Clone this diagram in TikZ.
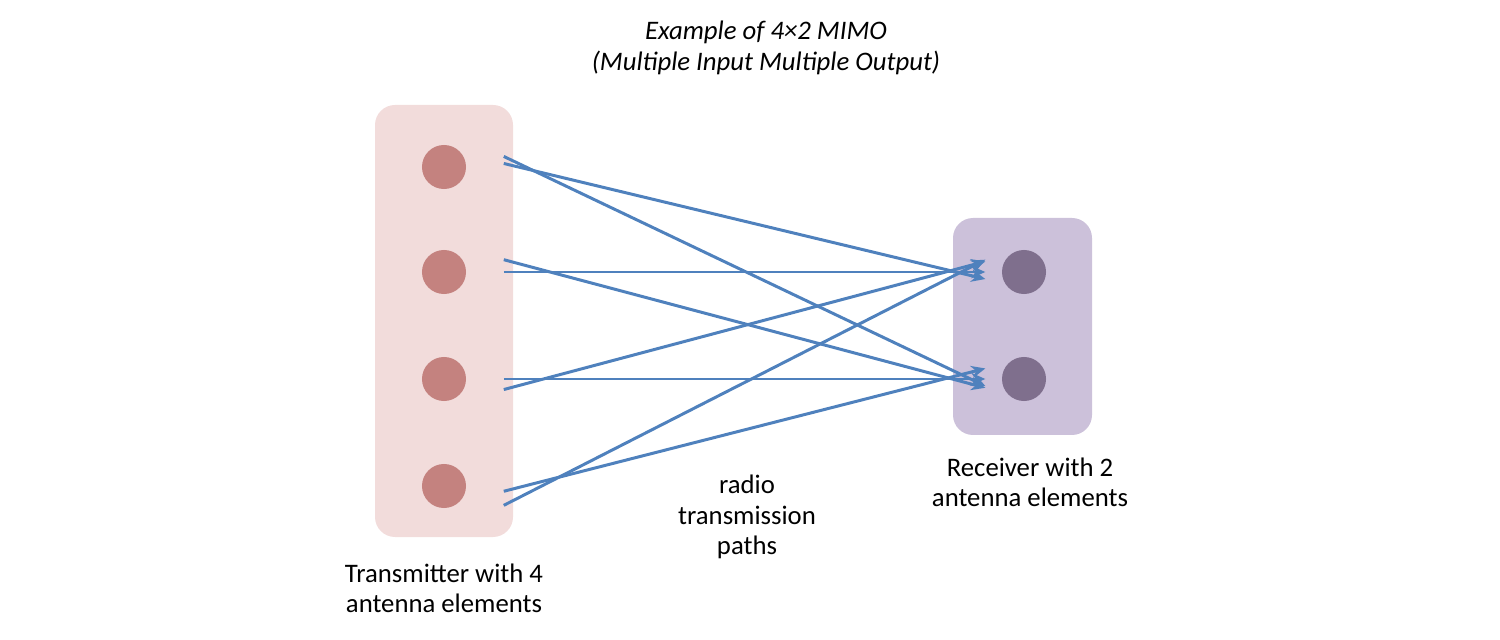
\documentclass[tikz,border=0pt]{standalone}
\usepackage{fontspec}
\setmainfont{Carlito}
\usetikzlibrary{arrows.meta}
\definecolor{txbox}{HTML}{F2DCDB}
\definecolor{txdot}{HTML}{C4827F}
\definecolor{rxbox}{HTML}{CCC1DA}
\definecolor{rxdot}{HTML}{7F6F8D}
\definecolor{path}{HTML}{4F81BD}
\begin{document}
\begin{tikzpicture}[x=0.01cm,y=-0.01cm,
  txt/.style={font=\fontsize{7.6}{8.6}\selectfont,align=center},
  dot/.style={circle,minimum size=0.44cm,inner sep=0pt},
  link/.style={path,line width=0.85pt,-{Stealth[length=4pt,width=3.5pt]}}]
\useasboundingbox (0,0) rectangle (1500,640);
\fill[txbox,rounded corners=0.2cm] (375,105) rectangle (513,537);
\fill[rxbox,rounded corners=0.2cm] (953,218) rectangle (1092,435);
\node[txt,font=\fontsize{7.6}{8.6}\selectfont\itshape] (title) at (766,48) {Example of 4×2 MIMO\\(Multiple Input Multiple Output)};
\foreach \i/\y in {1/167,2/272,3/379,4/486}
  \node[dot,fill=txdot] (t\i) at (444,\y) {};
\foreach \i/\y in {1/272,2/379}
  \node[dot,fill=rxdot] (r\i) at (1024,\y) {};
\draw[link] ([shift={(17pt,1pt)}]t1.center) -- ([shift={(-11pt,-2pt)}]r1.center);
\draw[link] ([shift={(17pt,3pt)}]t1.center) -- ([shift={(-11pt,-2pt)}]r2.center);
\draw[link] ([shift={(17pt,0pt)}]t2.center) -- ([shift={(-11pt,0pt)}]r1.center);
\draw[link] ([shift={(17pt,3.5pt)}]t2.center) -- ([shift={(-11pt,-2.5pt)}]r2.center);
\draw[link] ([shift={(17pt,-3pt)}]t3.center) -- ([shift={(-11pt,3pt)}]r1.center);
\draw[link] ([shift={(17pt,0pt)}]t3.center) -- ([shift={(-11pt,0pt)}]r2.center);
\draw[link] ([shift={(17pt,-5.5pt)}]t4.center) -- ([shift={(-11pt,3.5pt)}]r1.center);
\draw[link] ([shift={(17pt,-1.5pt)}]t4.center) -- ([shift={(-11pt,3pt)}]r2.center);
\node[txt] (txl) at (444,588) {Transmitter with 4\\antenna elements};
\node[txt] (mid) at (747,517) {radio\\transmission\\paths};
\node[txt] (rxl) at (1030,482) {Receiver with 2\\antenna elements};
\end{tikzpicture}
\end{document}
